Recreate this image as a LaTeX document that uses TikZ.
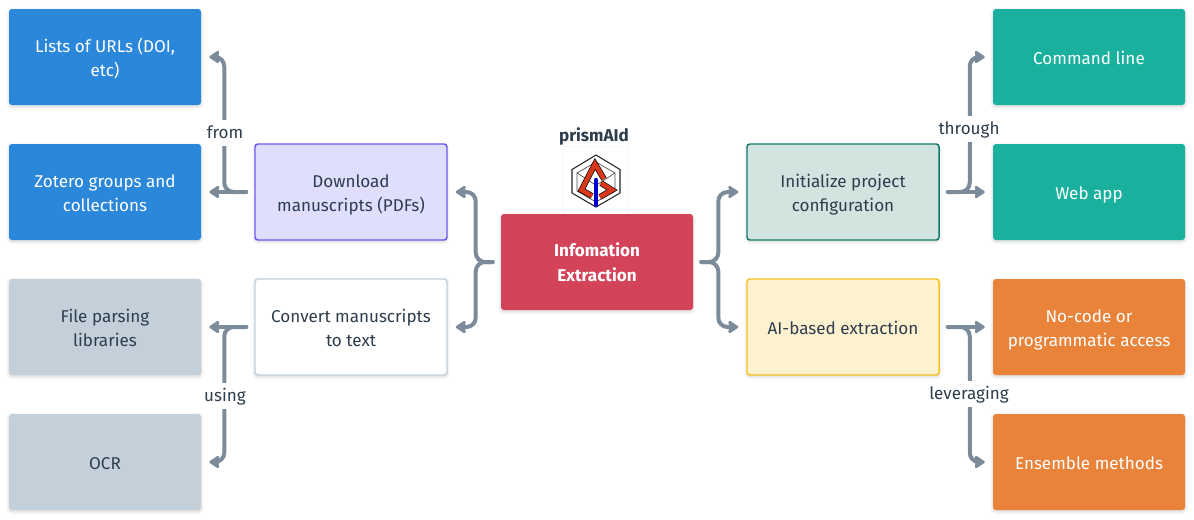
\documentclass[tikz,border=0pt]{standalone}
\usepackage{fontspec}
\setmainfont{Fira Sans}
\usepackage{xcolor}
\usetikzlibrary{arrows.meta,shadows.blur}
\definecolor{inkdark}{HTML}{2E3D4D}
\definecolor{linkgrey}{HTML}{7B8B9A}
\definecolor{leafblue}{HTML}{2B87DA}
\definecolor{leafgrey}{HTML}{C3D0DA}
\definecolor{leafteal}{HTML}{1AB09E}
\definecolor{leaforange}{HTML}{E9833A}
\definecolor{rootred}{HTML}{D3445B}
\definecolor{stepviolet}{HTML}{E0DEFD}
\definecolor{stepvioletline}{HTML}{6A5CF0}
\definecolor{stepgreen}{HTML}{D1E4E0}
\definecolor{stepgreenline}{HTML}{137A6B}
\definecolor{stepyellow}{HTML}{FDF1D0}
\definecolor{stepyellowline}{HTML}{F9C31F}
\definecolor{logored}{HTML}{D9371A}
\newcommand{\topstrut}{\rule{0pt}{15.5pt}}
\newcommand{\botstrut}{\rule[-4.7pt]{0pt}{4.7pt}}
\newcommand{\pairlines}[2]{\rule{0pt}{24.7pt}\begin{tabular}{@{}c@{}}#1\\#2\end{tabular}}
\tikzset{
	box/.style={
			rectangle, rounded corners=2.2pt, minimum width=144pt, minimum height=72pt,
			align=center, inner sep=0pt, font=\fontsize{12.8}{18}\selectfont, text=inkdark,
			execute at begin node=\topstrut, execute at end node=\botstrut,
			blur shadow={shadow blur steps=6, shadow xshift=0pt, shadow yshift=-1.2pt, shadow blur radius=2.5pt, shadow opacity=18}
		},
	leaf/.style={box, fill=#1, text=white},
	step box/.style n args={2}{box, fill=#1, draw=#2, line width=1.1pt},
	link/.style={draw=linkgrey, line width=3pt, rounded corners=7pt, line cap=round,
			-{Stealth[length=8.5pt, width=11pt, inset=1pt, round]}},
	tag/.style={fill=white, inner xsep=1pt, inner ysep=0.5pt, text=inkdark, font=\fontsize{12.8}{18}\selectfont,
			execute at begin node=\rule[-4.7pt]{0pt}{18pt}}
}
\begin{document}
\begin{tikzpicture}[x=0.75pt, y=-0.75pt]
	\useasboundingbox (0, 0) rectangle (1194, 519);

	% boxes
	\node[box, fill=rootred, text=white, font=\fontsize{12.8}{18.5}\selectfont\bfseries] (root) at (597, 262) {\pairlines{Infomation}{Extraction}};
	\node[step box={stepviolet}{stepvioletline}] (download) at (351, 192) {\pairlines{Download}{manuscripts (PDFs)}};
	\node[step box={white}{leafgrey}] (convert) at (351, 327) {\pairlines{Convert manuscripts}{to text}};
	\node[step box={stepgreen}{stepgreenline}] (config) at (843, 192) {\pairlines{Initialize project}{configuration}};
	\node[step box={stepyellow}{stepyellowline}] (extract) at (843, 327) {AI-based extraction};

	\node[leaf=leafblue] (urls) at (105, 57) {\pairlines{Lists of URLs (DOI,}{etc)}};
	\node[leaf=leafblue] (zotero) at (105, 192) {\pairlines{Zotero groups and}{collections}};
	\node[leaf=leafgrey, text=inkdark] (parsing) at (105, 327) {\pairlines{File parsing}{libraries}};
	\node[leaf=leafgrey, text=inkdark] (ocr) at (105, 462) {OCR};
	\node[leaf=leafteal] (cmdline) at (1089, 57) {Command line};
	\node[leaf=leafteal] (webapp) at (1089, 192) {Web app};
	\node[leaf=leaforange] (nocode) at (1089, 327) {\pairlines{No-code or}{programmatic access}};
	\node[leaf=leaforange] (ensemble) at (1089, 462) {Ensemble methods};

	% connectors
	\draw[link] ([xshift=-6pt]root.west) -- ++(-17, 0) |- ([xshift=6pt]download.east);
	\draw[link] ([xshift=-6pt]root.west) -- ++(-17, 0) |- ([xshift=6pt]convert.east);
	\draw[link] ([xshift=6pt]root.east) -- ++(17, 0) |- ([xshift=-6pt]config.west);
	\draw[link] ([xshift=6pt]root.east) -- ++(17, 0) |- ([xshift=-6pt]extract.west);

	\draw[link] ([xshift=-6pt]download.west) -- ++(-22, 0) |- ([xshift=6pt]urls.east);
	\draw[link] ([xshift=-6pt]download.west) -- ([xshift=6pt]zotero.east);
	\draw[link] ([xshift=-6pt]convert.west) -- ([xshift=6pt]parsing.east);
	\draw[link] ([xshift=-6pt]convert.west) -- ++(-22, 0) |- ([xshift=6pt]ocr.east);
	\draw[link] ([xshift=6pt]config.east) -- ++(22, 0) |- ([xshift=-6pt]cmdline.west);
	\draw[link] ([xshift=6pt]config.east) -- ([xshift=-6pt]webapp.west);
	\draw[link] ([xshift=6pt]extract.east) -- ([xshift=-6pt]nocode.west);
	\draw[link] ([xshift=6pt]extract.east) -- ++(22, 0) |- ([xshift=-6pt]ensemble.west);

	% connector labels
	\node[tag] (fromtag) at (225, 133) {from};
	\node[tag] (usingtag) at (225, 396) {using};
	\node[tag] (throughtag) at (969, 129) {through};
	\node[tag] (leveragingtag) at (969, 394) {leveraging};

	% logo card
	\node[rectangle, fill=white, rounded corners=2pt, minimum width=48pt, minimum height=50pt,
		blur shadow={shadow blur steps=5, shadow xshift=0pt, shadow yshift=0pt, shadow blur radius=1.5pt, shadow opacity=8}] (logo) at (595.5, 180.5) {};
	\node[font=\fontsize{12.8}{18}\selectfont\bfseries, text=inkdark] (title) at (594, 136) {prismAId};
	\draw[line width=0.8pt, black!85] (596, 155) -- (620, 169.5) -- (620, 193) -- (596, 207) -- (572, 193) -- (572, 169.5) -- cycle;
	\draw[line width=0.5pt, black!70] (577, 173) -- (596, 162) -- (615, 173) -- (615, 191) -- (596, 202) -- (577, 191) -- cycle;
	\draw[line width=0.5pt, black!70] (577, 173) -- (594, 184) (615, 173) -- (598, 184);
	\draw[line width=4.4pt, black, line join=miter] (604, 179) -- (595, 164) -- (581.5, 190) -- (592, 196);
	\draw[line width=3.4pt, logored, line join=miter] (604, 179) -- (595, 164) -- (581.5, 190) -- (592, 196);
	\draw[line width=4.4pt, black, line join=miter] (601, 183) -- (612, 190) -- (600, 197);
	\draw[line width=3.4pt, logored, line join=miter] (601, 183) -- (612, 190) -- (600, 197);
	\draw[line width=3.4pt, blue!80!black, line cap=round] (596, 180) -- (596, 205);
\end{tikzpicture}
\end{document}
